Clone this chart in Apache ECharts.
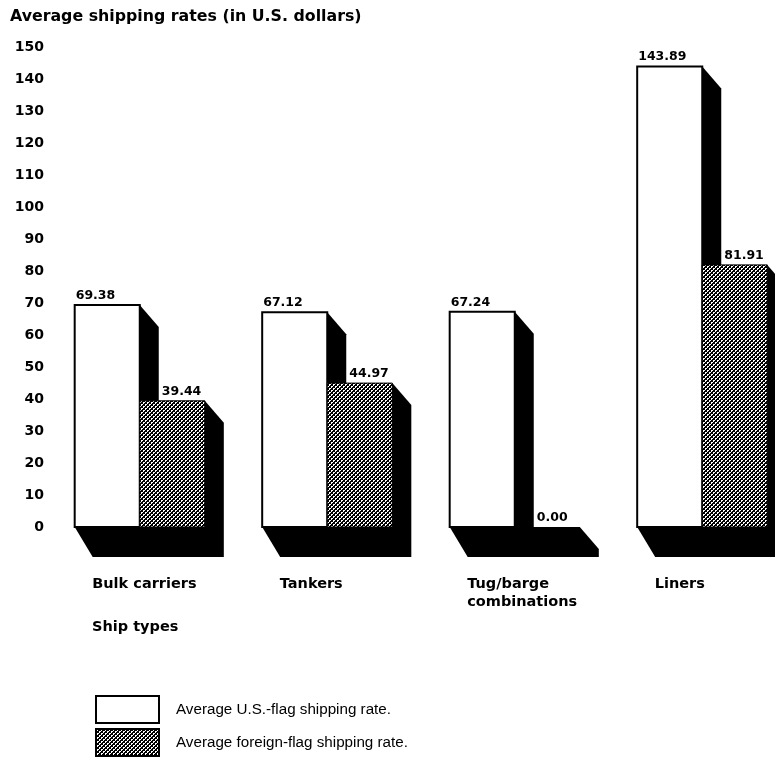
<!DOCTYPE html>
<html>
<head>
<meta charset="utf-8">
<script src="https://cdn.jsdelivr.net/npm/echarts@6/dist/echarts.min.js"></script>
<style>
  html, body { margin: 0; padding: 0; background: #fff; }
  #chart { width: 775px; height: 762px; }
</style>
</head>
<body>
<div id="chart"></div>
<script>
// Average shipping rates by ship type (U.S. dollars)
const shipTypes = ['Bulk carriers', 'Tankers', 'Tug/barge\ncombinations', 'Liners'];
const usFlagRates = [69.38, 67.12, 67.24, 143.89];
const foreignFlagRates = [39.44, 44.97, 0.00, 81.91];
const rateAxis = { min: 0, max: 150, step: 10 };

const seriesNames = ['Average U.S.-flag shipping rate.', 'Average foreign-flag shipping rate.'];

const BOLD = 'DejaVu Sans';

// halftone fill used for the foreign-flag bars
function halftone() {
  const c = document.createElement('canvas');
  c.width = 4; c.height = 4;
  const g = c.getContext('2d');
  g.fillStyle = '#000';
  g.fillRect(0, 0, 4, 4);
  g.fillStyle = '#fff';
  g.fillRect(1, 0, 2, 1);
  g.fillRect(1, 1, 1, 1);
  g.fillRect(3, 2, 1, 1);
  g.fillRect(0, 2, 1, 1);
  g.fillRect(3, 3, 1, 1);
  return c;
}

// extrusion (drop shadow) geometry
const DX = 19, DY_TOP = 22, DY_BASE = 30, DX_BASE = 18;

function barRenderer(side) {
  return function (params, api) {
    const cat = api.value(0);
    const val = api.value(1);
    const base = api.coord([cat, 0]);
    const top = api.coord([cat, val]);
    const band = api.size([1, 0])[0];
    const w = band * 0.347;
    const x0 = side === 0 ? base[0] - w : base[0];
    const x1 = x0 + w;
    const yB = base[1];
    const yT = top[1];
    const st = api.style();
    const children = [{
      type: 'polygon',
      shape: { points: [[x1, yT], [x1 + DX, yT + DY_TOP], [x1 + DX, yB + DY_BASE], [x0 + DX_BASE, yB + DY_BASE], [x0, yB]] },
      style: { fill: '#000' }
    }];
    if (yB - yT > 0.5) {
      children.push({
        type: 'rect',
        shape: { x: x0, y: yT, width: w, height: yB - yT },
        style: { fill: st.fill, stroke: '#000', lineWidth: side === 0 ? 2 : 1 }
      });
    }
    children.push({
      type: 'text',
      style: {
        text: val.toFixed(2),
        x: x0 + (side === 0 ? 1 : 22),
        y: yT - 3,
        align: 'left',
        verticalAlign: 'bottom',
        fontFamily: BOLD,
        fontWeight: 'bold',
        fontSize: 12.5,
        fill: '#000'
      }
    });
    return { type: 'group', children: children };
  };
}

const chart = echarts.init(document.getElementById('chart'), null, { renderer: 'canvas' });

chart.setOption({
  animation: false,
  backgroundColor: '#fff',
  title: [
    {
      text: 'Average shipping rates (in U.S. dollars)',
      left: 10, top: 9, padding: 0,
      textStyle: { fontFamily: BOLD, fontWeight: 'bold', fontSize: 15.8, color: '#000' }
    },
    {
      text: 'Ship types',
      left: 92, top: 620, padding: 0,
      textStyle: { fontFamily: BOLD, fontWeight: 'bold', fontSize: 14.5, color: '#000' }
    }
  ],
  grid: { left: 46, top: 47, width: 750, height: 480, outerBoundsMode: 'none', containLabel: false },
  xAxis: {
    type: 'category',
    data: shipTypes,
    axisLine: { show: false },
    axisTick: { show: false },
    axisLabel: {
      interval: 0,
      margin: 48,
      formatter: v => v.split('\n').map(s => '{a|' + s + '}').join('\n'),
      rich: {
        a: { width: 95, align: 'left', fontFamily: BOLD, fontWeight: 'bold', fontSize: 14.5, color: '#000', lineHeight: 18 }
      }
    }
  },
  yAxis: {
    type: 'value',
    min: rateAxis.min,
    max: rateAxis.max,
    interval: rateAxis.step,
    axisLine: { show: false },
    axisTick: { show: false },
    splitLine: { show: false },
    axisLabel: { margin: 2, fontFamily: BOLD, fontWeight: 'bold', fontSize: 14, color: '#000' }
  },
  legend: {
    orient: 'vertical',
    left: 95, top: 695,
    padding: 0,
    itemWidth: 63, itemHeight: 27, itemGap: 4,
    icon: 'rect',
    data: seriesNames,
    textStyle: { fontFamily: 'Liberation Sans', fontSize: 15.2, color: '#000', padding: [0, 0, 0, 12] }
  },
  series: [
    {
      name: seriesNames[0],
      type: 'custom',
      renderItem: barRenderer(0),
      itemStyle: { color: '#fff', borderColor: '#000', borderWidth: 1.5 },
      encode: { x: 0, y: 1 },
      data: usFlagRates.map((v, i) => [i, v])
    },
    {
      name: seriesNames[1],
      type: 'custom',
      renderItem: barRenderer(1),
      itemStyle: { color: { image: halftone(), repeat: 'repeat' }, borderColor: '#000', borderWidth: 1 },
      encode: { x: 0, y: 1 },
      data: foreignFlagRates.map((v, i) => [i, v])
    }
  ]
});
</script>
</body>
</html>
